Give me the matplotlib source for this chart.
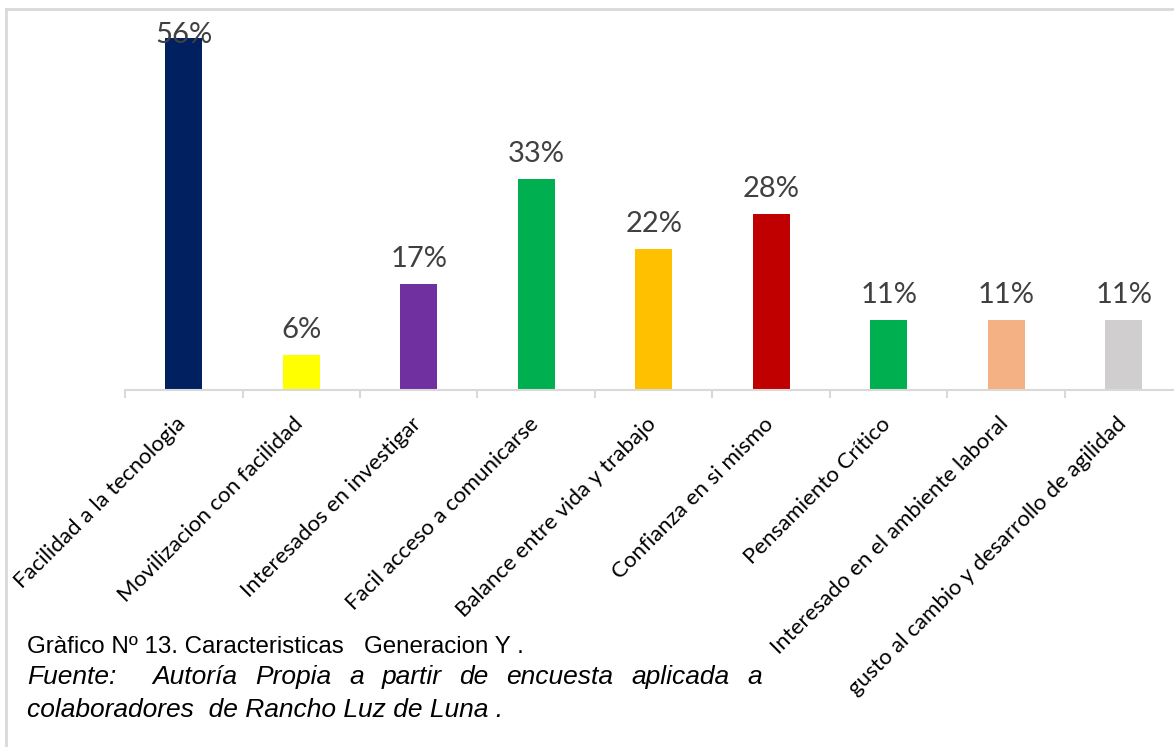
import matplotlib
matplotlib.use("Agg")
import matplotlib.pyplot as plt
from matplotlib.lines import Line2D
import matplotlib.transforms as mtransforms
import numpy as np

# data
categories = ["Facilidad a la tecnologia", "Movilizacion con facilidad",
              "Interesados en investigar", "Facil acceso a comunicarse",
              "Balance entre vida y trabajo", "Confianza en si mismo",
              "Pensamiento Crítico", "Interesado en el ambiente laboral",
              "gusto al cambio y desarrollo de agilidad"]
values = [55.6, 5.6, 16.7, 33.3, 22.2, 27.8, 11.1, 11.1, 11.1]
colors = ["#002060", "#FFFF00", "#7030A0", "#00B050", "#FFC000",
          "#C00000", "#00B050", "#F4B183", "#D0CECE"]

caption1 = "Gràfico Nº 13. Caracteristicas   Generacion Y ."
caption2 = "Fuente:  Autoría Propia a partir de encuesta aplicada a"
caption3 = "colaboradores  de Rancho Luz de Luna ."

W, H = 1174, 747
fig = plt.figure(figsize=(W / 100, H / 100), dpi=100)

ax = fig.add_axes([125 / W, (H - 390) / H, 1057.5 / W, 370 / H])
x = np.arange(len(categories))
ax.bar(x, values, width=0.315, color=colors, zorder=2)
ytop = 58.45
ax.set_xlim(-0.5, len(categories) - 0.5)
ax.set_ylim(0, ytop)

for xi, v in zip(x, values):
    ylab = min(v + 1.9, ytop - 4.4)
    ax.text(xi, ylab, "%d%%" % round(v), ha="center", va="bottom",
            fontsize=21, color="#404040", family="Lato")

for s in ["top", "right", "left"]:
    ax.spines[s].set_visible(False)
ax.spines["bottom"].set_color("#d9d9d9")
ax.spines["bottom"].set_linewidth(1.5)
ax.set_yticks([])

ax.set_xticks(x)
ax.set_xticklabels(categories, rotation=45, ha="right", va="top",
                   rotation_mode="anchor", fontsize=16, family="Lato")
ax.tick_params(axis="x", which="major", length=0, pad=17)
ax.set_xticks(np.arange(len(categories) + 1) - 0.5, minor=True)
ax.tick_params(axis="x", which="minor", length=5.5, width=1.5, color="#d9d9d9")
shift = mtransforms.ScaledTranslation(-8 / 100, 0, fig.dpi_scale_trans)
for lab in ax.get_xticklabels():
    lab.set_transform(lab.get_transform() + shift)

# figure frame (left and top edges)
fig.add_artist(Line2D([6 / W, 6 / W], [0, 1 - 9 / H], transform=fig.transFigure,
                      color="#d9d9d9", lw=2))
fig.add_artist(Line2D([6 / W, 1], [1 - 9 / H, 1 - 9 / H], transform=fig.transFigure,
                      color="#d9d9d9", lw=2))

cap_font = "Liberation Sans"
renderer = fig.canvas.get_renderer()


def fit_text(txt, x0, x1, ybase, **kw):
    t = fig.text(x0 / W, 1 - ybase / H, txt, fontsize=17, family=cap_font,
                 va="baseline", **kw)
    w = t.get_window_extent(renderer).width
    t.set_fontsize(17 * (x1 - x0) / w)
    return t


fit_text(caption1, 27, 525, 653)
t3 = fit_text(caption3, 27, 505, 717, style="italic")
size3 = t3.get_fontsize()

# justified line
words = caption2.split(" ")
gaps = []
tokens = []
for w in words:
    if w == "":
        gaps[-1] += 1
    else:
        tokens.append(w)
        gaps.append(1)
gaps = gaps[:-1]
arts = [fig.text(0, 1 - 684 / H, t, fontsize=size3, family=cap_font, style="italic",
                 va="baseline") for t in tokens]
widths = [a.get_window_extent(renderer).width for a in arts]
x0, x1 = 27, 762
unit = (x1 - x0 - sum(widths)) / sum(gaps)
pos = x0
for i, a in enumerate(arts):
    a.set_x(pos / W)
    pos += widths[i]
    if i < len(gaps):
        pos += gaps[i] * unit

fig.savefig("out.png", dpi=100)
